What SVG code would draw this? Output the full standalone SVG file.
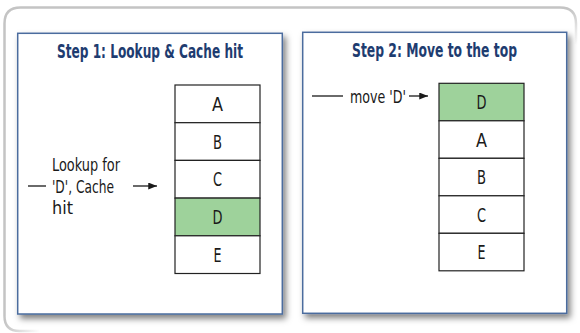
<svg xmlns="http://www.w3.org/2000/svg" width="580" height="333" viewBox="0 0 580 333">
  <defs>
    <style>
      .frame { fill: none; stroke: #c4c4c4; stroke-width: 2.5; }
      .panel { fill: #ffffff; stroke: #4b6c9e; stroke-width: 1.5; }
      .title { font-family: "DejaVu Sans Condensed", "DejaVu Sans", sans-serif; font-stretch: condensed; font-weight: bold; font-size: 20px; fill: #1e3c70; text-anchor: middle; }
      .cell { fill: #ffffff; stroke: #222222; stroke-width: 1.2; }
      .hit { fill: #9ed29b; }
      .letter { font-family: "DejaVu Sans Condensed", "DejaVu Sans", sans-serif; font-stretch: condensed; font-size: 20px; fill: #1a1a1a; text-anchor: middle; }
      .label { font-family: "DejaVu Sans Condensed", "DejaVu Sans", sans-serif; font-stretch: condensed; font-size: 18px; fill: #1a1a1a; }
      .wire { fill: none; stroke: #1a1a1a; stroke-width: 1.3; }
    </style>
    <filter id="shadow" x="-10%" y="-10%" width="125%" height="125%">
      <feDropShadow dx="3" dy="4" stdDeviation="3" flood-color="#000000" flood-opacity="0.5"/>
    </filter>
    <marker id="head" viewBox="0 0 10 8" refX="10" refY="4" markerWidth="11" markerHeight="7" markerUnits="userSpaceOnUse" orient="auto">
      <path d="M0,0 L10,4 L0,8 Z" fill="#1a1a1a"/>
    </marker>
    <linearGradient id="fadeRight" gradientUnits="userSpaceOnUse" x1="0" y1="8" x2="0" y2="45">
      <stop offset="0" stop-color="#c4c4c4"/>
      <stop offset="1" stop-color="#c4c4c4" stop-opacity="0"/>
    </linearGradient>
    <linearGradient id="fadeBottom" gradientUnits="userSpaceOnUse" x1="4" y1="0" x2="40" y2="0">
      <stop offset="0" stop-color="#c4c4c4"/>
      <stop offset="1" stop-color="#c4c4c4" stop-opacity="0"/>
    </linearGradient>
  </defs>

  <!-- outer rounded frame, fading out toward the lower right -->
  <g id="frame">
    <path class="frame" d="M4.5,316 V23.5 Q4.5,7.5 20.5,7.5 H560"/>
    <path class="frame" style="stroke:url(#fadeRight)" d="M560,7.5 Q576,7.5 576,23.5 V45"/>
    <path class="frame" style="stroke:url(#fadeBottom)" d="M4.5,316 Q4.5,331 19.5,331 H40"/>
  </g>

  <!-- step 1 panel -->
  <g id="step1">
    <rect class="panel" x="17.7" y="33.3" width="264.6" height="280.7" filter="url(#shadow)"/>
    <text class="title" x="150" y="58" textLength="186" lengthAdjust="spacingAndGlyphs">Step 1: Lookup &amp; Cache hit</text>
  </g>
  <g id="stack1">
    <rect class="cell" x="175" y="85" width="85" height="37.7"/>
    <rect class="cell" x="175" y="122.7" width="85" height="37.7"/>
    <rect class="cell" x="175" y="160.4" width="85" height="37.7"/>
    <rect class="cell hit" x="175" y="198.1" width="85" height="37.7"/>
    <rect class="cell" x="175" y="235.8" width="85" height="37.7"/>
    <text class="letter" x="217.5" y="111" textLength="11" lengthAdjust="spacingAndGlyphs">A</text>
    <text class="letter" x="217.5" y="148.7" textLength="9" lengthAdjust="spacingAndGlyphs">B</text>
    <text class="letter" x="217.5" y="186.4" textLength="9" lengthAdjust="spacingAndGlyphs">C</text>
    <text class="letter" x="217.5" y="224.1" textLength="10" lengthAdjust="spacingAndGlyphs">D</text>
    <text class="letter" x="217.5" y="261.8" textLength="8" lengthAdjust="spacingAndGlyphs">E</text>
  </g>
  <g id="lookup-label">
    <text class="label" x="52" y="171" textLength="68" lengthAdjust="spacingAndGlyphs">Lookup for</text>
    <text class="label" x="52" y="192.5" textLength="62" lengthAdjust="spacingAndGlyphs">'D', Cache</text>
    <text class="label" x="52" y="214" textLength="21" lengthAdjust="spacingAndGlyphs">hit</text>
  </g>

  <!-- step 2 panel -->
  <g id="step2">
    <rect class="panel" x="302.7" y="32.3" width="264" height="281" filter="url(#shadow)"/>
    <text class="title" x="434.5" y="57" textLength="165" lengthAdjust="spacingAndGlyphs">Step 2: Move to the top</text>
  </g>
  <g id="stack2">
    <rect class="cell hit" x="439" y="83.3" width="85" height="37.5"/>
    <rect class="cell" x="439" y="120.8" width="85" height="37.5"/>
    <rect class="cell" x="439" y="158.3" width="85" height="37.5"/>
    <rect class="cell" x="439" y="195.8" width="85" height="37.5"/>
    <rect class="cell" x="439" y="233.3" width="85" height="37.5"/>
    <text class="letter" x="481.5" y="109.2" textLength="10" lengthAdjust="spacingAndGlyphs">D</text>
    <text class="letter" x="481.5" y="146.7" textLength="11" lengthAdjust="spacingAndGlyphs">A</text>
    <text class="letter" x="481.5" y="184.2" textLength="9" lengthAdjust="spacingAndGlyphs">B</text>
    <text class="letter" x="481.5" y="221.7" textLength="9" lengthAdjust="spacingAndGlyphs">C</text>
    <text class="letter" x="481.5" y="259.2" textLength="8" lengthAdjust="spacingAndGlyphs">E</text>
  </g>
  <g id="move-label">
    <text class="label" x="350" y="102.5" textLength="56" lengthAdjust="spacingAndGlyphs">move 'D'</text>
  </g>

  <!-- connectors -->
  <g id="connectors">
    <line class="wire" x1="28" y1="186" x2="46" y2="186"/>
    <line class="wire" x1="133" y1="186" x2="157" y2="186" marker-end="url(#head)"/>
    <line class="wire" x1="312" y1="96" x2="343" y2="96"/>
    <line class="wire" x1="409" y1="96" x2="428" y2="96" marker-end="url(#head)"/>
  </g>
</svg>
